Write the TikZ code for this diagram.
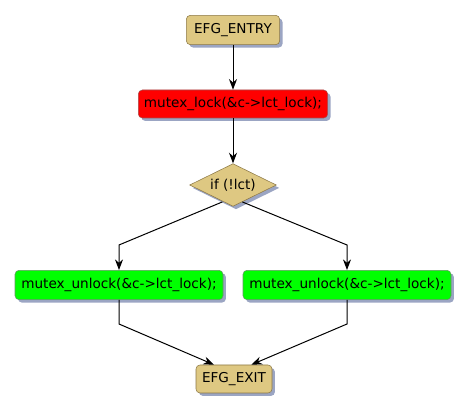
\documentclass[tikz,border=0pt]{standalone}
\usepackage{fontspec}
\setmainfont{DejaVu Sans}
\usetikzlibrary{shapes.geometric,arrows.meta,positioning,shadows}
\definecolor{colTan}{RGB}{222,200,130}
\definecolor{colTanLine}{RGB}{140,120,70}
\definecolor{colShadow}{RGB}{155,165,195}
\tikzset{
  efgbox/.style   = {rectangle, rounded corners=3pt, draw=colTanLine,
                     fill=colTan, text centered, minimum height=22pt,
                     inner xsep=4pt, font=\fontsize{10.2}{12}\selectfont,
                     drop shadow={shadow xshift=2.2pt, shadow yshift=-2.2pt,
                                  fill=colShadow, opacity=1}},
  lockbox/.style  = {efgbox, fill=red, draw=red!50!black!70,
                     minimum height=21pt},
  unlockbox/.style= {efgbox, fill=green, draw=green!30!black!60,
                     minimum height=22pt},
  condbox/.style  = {diamond, aspect=2, draw=colTanLine, fill=colTan,
                     inner sep=1pt, minimum width=65pt, minimum height=32pt,
                     font=\fontsize{10.2}{12}\selectfont,
                     drop shadow={shadow xshift=2.2pt, shadow yshift=-2.2pt,
                                  fill=colShadow, opacity=1}},
  arr/.style      = {-{Stealth[length=8pt,width=6pt]}, draw=black, line width=0.75pt},
}
\begin{document}
\begin{tikzpicture}[x=0.75pt, y=-0.75pt]
\useasboundingbox (0,0) rectangle (469,413);

\node[efgbox, minimum width=70pt] (entry) at (233,30) {EFG\_ENTRY};
\node[lockbox, minimum width=142pt] (lock) at (233,104) {mutex\_lock(\&c->lct\_lock);};
\node[condbox] (cond) at (233,185) {if (!lct)};
\node[unlockbox, minimum width=156pt] (unlockl) at (119,285) {mutex\_unlock(\&c->lct\_lock);};
\node[unlockbox, minimum width=156pt] (unlockr) at (347,285) {mutex\_unlock(\&c->lct\_lock);};
\node[efgbox, minimum width=57pt, minimum height=21pt] (exit) at (234,379) {EFG\_EXIT};

%% bend points
\coordinate (bl) at (119,245);
\coordinate (br) at (347,245);
\coordinate (jl) at (119,324);
\coordinate (jr) at (347,324);

%% Arrows
\draw[arr] (entry) -- (lock);
\draw[arr] (lock)  -- (cond);
\draw[arr] ([xshift=-8pt,yshift=3.5pt]cond.south) -- (bl) -- (unlockl.north);
\draw[arr] ([xshift=7pt,yshift=3.5pt]cond.south) -- (br) -- (unlockr.north);
\draw[arr] (unlockl.south) -- (jl) -- ([xshift=-15pt]exit.north);
\draw[arr] (unlockr.south) -- (jr) -- ([xshift=13pt]exit.north);

\end{tikzpicture}
\end{document}
